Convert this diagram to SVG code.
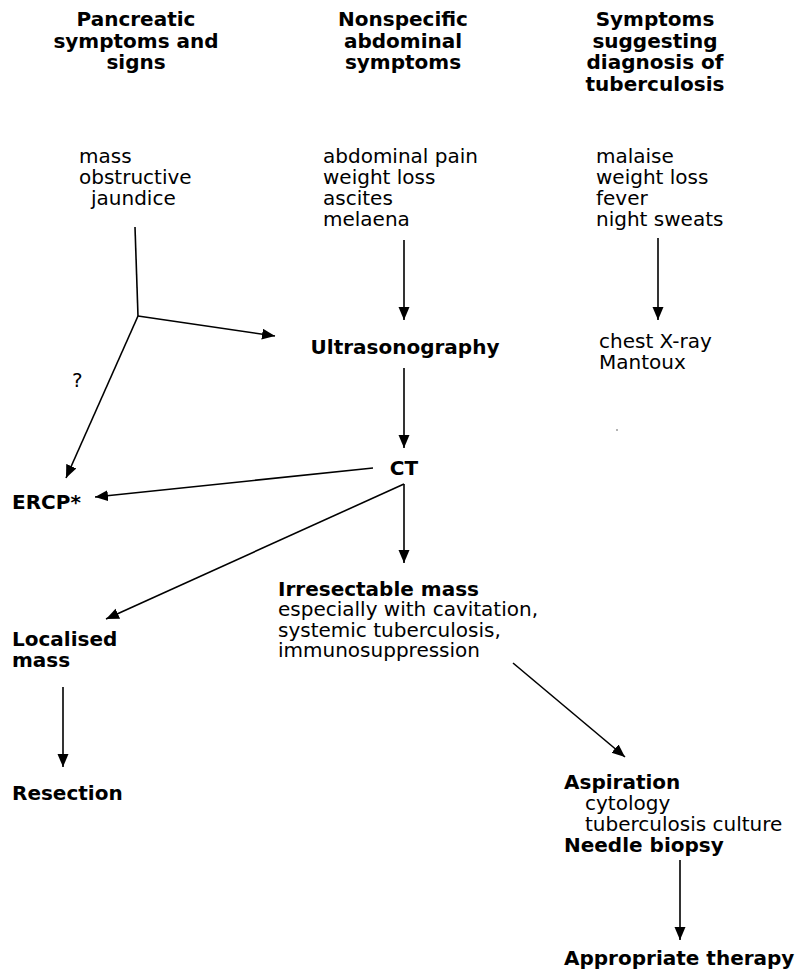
<svg xmlns="http://www.w3.org/2000/svg" width="798" height="970" viewBox="0 0 798 970">
<defs>
<style>
.h{font-family:"DejaVu Sans",sans-serif;font-weight:bold;font-size:20px;fill:#000}
.t{font-family:"DejaVu Sans",sans-serif;font-size:20px;fill:#000}
.c{text-anchor:middle}
.ln{stroke:#000;stroke-width:1.6;fill:none}
</style>
<marker id="ah" markerUnits="userSpaceOnUse" markerWidth="14" markerHeight="12" refX="13" refY="5.5" orient="auto">
<path d="M0,0 L13,5.5 L0,11 z" fill="#000"/>
</marker>
</defs>
<rect width="798" height="970" fill="#fff"/>
<g id="hdr-pancreatic">
<text class="h c" x="136" y="26">Pancreatic</text>
<text class="h c" x="136" y="48">symptoms and</text>
<text class="h c" x="136" y="69">signs</text>
</g>
<g id="hdr-nonspecific">
<text class="h c" x="403" y="26">Nonspecific</text>
<text class="h c" x="403" y="48">abdominal</text>
<text class="h c" x="403" y="69">symptoms</text>
</g>
<g id="hdr-tb">
<text class="h c" x="655" y="26">Symptoms</text>
<text class="h c" x="655" y="48">suggesting</text>
<text class="h c" x="655" y="69">diagnosis of</text>
<text class="h c" x="655" y="91">tuberculosis</text>
</g>
<g id="pancreatic-signs">
<text class="t" x="79" y="163">mass</text>
<text class="t" x="79" y="184">obstructive</text>
<text class="t" x="91" y="205">jaundice</text>
</g>
<g id="abdominal-symptoms">
<text class="t" x="323" y="163">abdominal pain</text>
<text class="t" x="323" y="184">weight loss</text>
<text class="t" x="323" y="205">ascites</text>
<text class="t" x="323" y="226">melaena</text>
</g>
<g id="tb-symptoms">
<text class="t" x="596" y="163">malaise</text>
<text class="t" x="596" y="184">weight loss</text>
<text class="t" x="596" y="205">fever</text>
<text class="t" x="596" y="226">night sweats</text>
</g>
<g id="ultrasonography">
<text class="h c" x="405" y="354">Ultrasonography</text>
</g>
<g id="chest-xray">
<text class="t" x="599" y="348">chest X-ray</text>
<text class="t" x="599" y="369">Mantoux</text>
</g>
<g id="question">
<text class="t" x="72" y="387">?</text>
</g>
<g id="ct">
<text class="h c" x="404" y="475">CT</text>
</g>
<g id="ercp">
<text class="h" x="12" y="509">ERCP*</text>
</g>
<g id="irresectable">
<text class="h" x="278" y="596">Irresectable mass</text>
<text class="t" x="278" y="616">especially with cavitation,</text>
<text class="t" x="278" y="637">systemic tuberculosis,</text>
<text class="t" x="278" y="657">immunosuppression</text>
</g>
<g id="localised">
<text class="h" x="12" y="646">Localised</text>
<text class="h" x="12" y="667">mass</text>
</g>
<g id="resection">
<text class="h" x="12" y="800">Resection</text>
</g>
<g id="aspiration">
<text class="h" x="564" y="789">Aspiration</text>
<text class="t" x="585" y="810">cytology</text>
<text class="t" x="585" y="831">tuberculosis culture</text>
<text class="h" x="564" y="852">Needle biopsy</text>
</g>
<g id="therapy">
<text class="h" x="564" y="965">Appropriate therapy</text>
</g>
<circle cx="617" cy="430" r="0.8" fill="#555"/>
<g id="connectors">
<polyline class="ln" points="135,227 138,316"/>
<line class="ln" x1="138" y1="316" x2="275" y2="336" marker-end="url(#ah)"/>
<line class="ln" x1="138" y1="316" x2="66" y2="478" marker-end="url(#ah)"/>
<line class="ln" x1="404" y1="240" x2="404" y2="320" marker-end="url(#ah)"/>
<line class="ln" x1="658" y1="238" x2="658" y2="320" marker-end="url(#ah)"/>
<line class="ln" x1="404" y1="368" x2="404" y2="448" marker-end="url(#ah)"/>
<line class="ln" x1="373" y1="468" x2="95" y2="497" marker-end="url(#ah)"/>
<line class="ln" x1="404" y1="484" x2="404" y2="563" marker-end="url(#ah)"/>
<line class="ln" x1="404" y1="484" x2="106" y2="619" marker-end="url(#ah)"/>
<line class="ln" x1="63" y1="687" x2="63" y2="767" marker-end="url(#ah)"/>
<line class="ln" x1="513" y1="663" x2="625" y2="757" marker-end="url(#ah)"/>
<line class="ln" x1="680" y1="860" x2="680" y2="940" marker-end="url(#ah)"/>
</g>
</svg>
